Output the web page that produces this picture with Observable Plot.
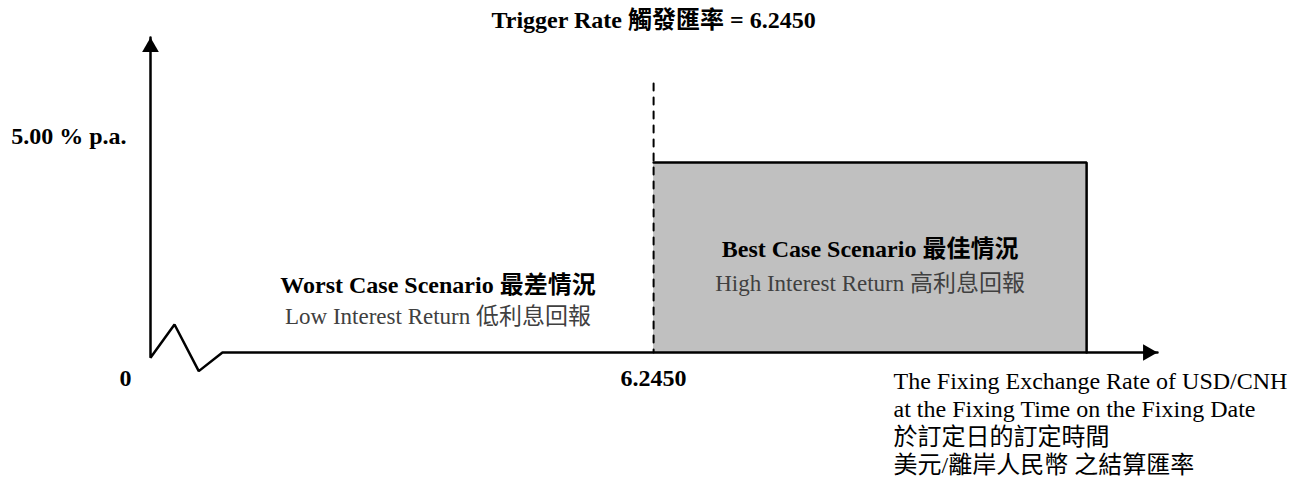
<!DOCTYPE html>
<html><head><meta charset="utf-8">
<script src="https://cdn.jsdelivr.net/npm/d3@7"></script>
<script src="https://cdn.jsdelivr.net/npm/@observablehq/plot@0.6"></script>
<style>body{margin:0;background:#fff} svg{display:block}</style>
</head><body><div id="chart"></div>
<script>
// ---- data ----
const triggerRate = 6.2450;       // trigger exchange rate
const couponRate = 5.00;          // % p.a. (best case)
const bestUpper = 11.62;          // right edge of best-case region (schematic)
const xAxisEnd = 12.5;            // arrow tip of x axis (schematic)
const yAxisTop = 8.29;            // arrow tip of y axis (schematic)
const dashTop = 7.08;             // top of trigger dashed line
const axisBreak = [[0, -0.14], [0.298, 0.737], [0.599, -0.49], [0.893, 0]];
const titleText = "Trigger Rate 觸發匯率 = 6.2450";
const couponLabel = "5.00 % p.a.";
const originLabel = "0";
const triggerLabel = "6.2450";
const worstTitle = "Worst Case Scenario 最差情況";
const worstSub = "Low Interest Return 低利息回報";
const bestTitle = "Best Case Scenario 最佳情況";
const bestSub = "High Interest Return 高利息回報";
const xAxisTitle = [
  "The Fixing Exchange Rate of USD/CNH",
  "at the Fixing Time on the Fixing Date",
  "於訂定日的訂定時間",
  "美元/離岸人民幣 之結算匯率"
];

// ---- derived ----
const axisPath = [[0, yAxisTop], ...axisBreak, [xAxisEnd, 0]];
const breakEnd = axisBreak[axisBreak.length - 1][0];
const worstMid = (breakEnd + triggerRate) / 2;
const bestMid = (triggerRate + bestUpper) / 2;
const one = (x, y, label) => [{x, y, label}];
const T = {x: "x", y: "y", text: "label"};

const chart = Plot.plot({
  width: 1301,
  height: 481,
  marginLeft: 150,
  marginRight: 144,
  marginTop: 37,
  marginBottom: 129,
  x: {domain: [0, xAxisEnd], axis: null},
  y: {domain: [0, yAxisTop], axis: null},
  style: {fontFamily: '"Liberation Serif", "Times New Roman", "Noto Sans CJK TC", serif', background: "#fff", color: "#000"},
  marks: [
    Plot.rect([{x1: triggerRate, x2: bestUpper, y1: 0, y2: couponRate}], {x1: "x1", x2: "x2", y1: "y1", y2: "y2", fill: "#c0c0c0"}),
    Plot.line([[triggerRate, couponRate], [bestUpper, couponRate], [bestUpper, 0]], {stroke: "#000", strokeWidth: 2.5, strokeLinejoin: "miter"}),
    Plot.line([[triggerRate, dashTop], [triggerRate, 0]], {stroke: "#000", strokeWidth: 2, strokeDasharray: "7,7"}),
    Plot.line(axisPath, {stroke: "#000", strokeWidth: 2.5, strokeLinejoin: "miter"}),
    Plot.dot([[0, yAxisTop]], {symbol: "triangle", r: 6.2, fill: "#000", stroke: "none", dy: 9.6}),
    Plot.dot([[xAxisEnd, 0]], {symbol: "triangle", r: 6.2, fill: "#000", stroke: "none", rotate: 90, dx: -9.6}),
    Plot.text(one(triggerRate, yAxisTop, titleText), {...T, dy: -10, lineAnchor: "bottom", fontSize: 24, fontWeight: "bold"}),
    Plot.text(one(0, couponRate, couponLabel), {...T, dx: -24, dy: -19, textAnchor: "end", lineAnchor: "bottom", fontSize: 24, fontWeight: "bold"}),
    Plot.text(one(0, 0, originLabel), {...T, dx: -25, dy: 33, lineAnchor: "bottom", fontSize: 24, fontWeight: "bold"}),
    Plot.text(one(triggerRate, 0, triggerLabel), {...T, dy: 33, lineAnchor: "bottom", fontSize: 24, fontWeight: "bold"}),
    Plot.text(one(worstMid, 0, worstTitle), {...T, dy: -60, lineAnchor: "bottom", fontSize: 24, fontWeight: "bold"}),
    Plot.text(one(worstMid, 0, worstSub), {...T, dy: -29, lineAnchor: "bottom", fontSize: 23, fill: "#404040"}),
    Plot.text(one(bestMid, couponRate / 2, bestTitle), {...T, dy: -1, lineAnchor: "bottom", fontSize: 24, fontWeight: "bold"}),
    Plot.text(one(bestMid, couponRate / 2, bestSub), {...T, dy: 33, lineAnchor: "bottom", fontSize: 23, fill: "#404040"}),
    Plot.text(one(xAxisEnd, 0, xAxisTitle.join("\n")), {...T, dx: -264, dy: 17, textAnchor: "start", lineAnchor: "top", lineHeight: 28 / 24, fontSize: 24})
  ]
});
document.getElementById("chart").append(chart);
</script>
</body></html>
